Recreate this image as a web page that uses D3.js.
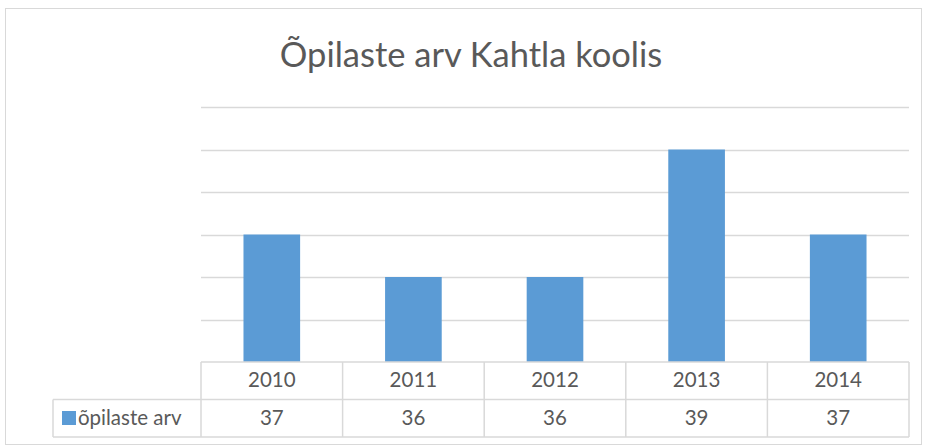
<!DOCTYPE html>
<html>
<head>
<meta charset="utf-8">
<script src="https://cdn.jsdelivr.net/npm/d3@7"></script>
<style>
  body { margin: 0; background: #fff; }
  svg { display: block; font-family: Lato, "Open Sans", sans-serif; }
</style>
</head>
<body>
<div id="chart"></div>
<script>
// andmed
const years = ["2010", "2011", "2012", "2013", "2014"];
const students = [37, 36, 36, 39, 37];
const seriesName = "õpilaste arv";
const gridTicks = [35, 36, 37, 38, 39, 40];

const width = 926, height = 446;
const plot = { left: 201, right: 909, top: 107, bottom: 362 };
const rowH = 37.5;

const svg = d3.select("#chart").append("svg")
    .attr("width", width)
    .attr("height", height);

// raam
svg.append("rect")
    .attr("x", 5.5).attr("y", 8.5)
    .attr("width", 916).attr("height", 436)
    .attr("fill", "#fff")
    .attr("stroke", "#d9d9d9");

svg.append("text")
    .attr("x", 471)
    .attr("y", 67)
    .attr("text-anchor", "middle")
    .attr("font-size", "34.5px")
    .attr("fill", "#595959")
    .text("Õpilaste arv Kahtla koolis");

const xCol = d3.scaleBand()
    .domain(years)
    .range([plot.left, plot.right]);

const y = d3.scaleLinear()
    .domain([34, 40])
    .range([plot.bottom, plot.top]);

// ruudustik
svg.append("g")
    .selectAll("line")
    .data(gridTicks)
    .enter().append("line")
    .attr("x1", plot.left)
    .attr("x2", plot.right)
    .attr("y1", d => Math.round(y(d)) + 0.5)
    .attr("y2", d => Math.round(y(d)) + 0.5)
    .attr("stroke", "#d9d9d9")
    .attr("stroke-width", 1.5);

// tulbad
svg.append("g")
    .selectAll("rect")
    .data(students)
    .enter().append("rect")
    .attr("x", (d, i) => xCol(years[i]) + xCol.bandwidth() * 0.3)
    .attr("width", xCol.bandwidth() * 0.4)
    .attr("y", d => y(d))
    .attr("height", d => y(34) - y(d))
    .attr("fill", "#5b9bd5");

// andmetabel
const table = svg.append("g")
    .attr("fill", "none")
    .attr("stroke", "#d9d9d9")
    .attr("stroke-width", 1.5);

const rowTop = plot.bottom, rowMid = rowTop + rowH, rowBot = rowTop + 2 * rowH;
const legendLeft = 53;

table.append("line").attr("x1", plot.left).attr("x2", plot.right).attr("y1", rowTop).attr("y2", rowTop);
table.append("line").attr("x1", legendLeft).attr("x2", plot.right).attr("y1", rowMid).attr("y2", rowMid);
table.append("line").attr("x1", legendLeft).attr("x2", plot.right).attr("y1", rowBot).attr("y2", rowBot);
table.append("line").attr("x1", legendLeft).attr("x2", legendLeft).attr("y1", rowMid).attr("y2", rowBot);

table.selectAll("line.col")
    .data(years.concat(["end"]))
    .enter().append("line")
    .attr("class", "col")
    .attr("x1", d => d === "end" ? plot.right : xCol(d))
    .attr("x2", d => d === "end" ? plot.right : xCol(d))
    .attr("y1", rowTop)
    .attr("y2", rowBot);

svg.append("g")
    .selectAll("text")
    .data(years)
    .enter().append("text")
    .attr("x", d => xCol(d) + xCol.bandwidth() / 2)
    .attr("y", 387)
    .attr("text-anchor", "middle")
    .attr("font-size", "20.5px")
    .attr("fill", "#595959")
    .text(d => d);

svg.append("g")
    .selectAll("text")
    .data(students)
    .enter().append("text")
    .attr("x", (d, i) => xCol(years[i]) + xCol.bandwidth() / 2)
    .attr("y", 425)
    .attr("text-anchor", "middle")
    .attr("font-size", "20.5px")
    .attr("fill", "#595959")
    .text(d => d);

// legend
svg.append("rect")
    .attr("x", 62).attr("y", 411)
    .attr("width", 14).attr("height", 14)
    .attr("fill", "#5b9bd5");

svg.append("text")
    .attr("x", 78)
    .attr("y", 425)
    .attr("font-size", "20.5px")
    .attr("fill", "#595959")
    .text(seriesName);
</script>
</body>
</html>
